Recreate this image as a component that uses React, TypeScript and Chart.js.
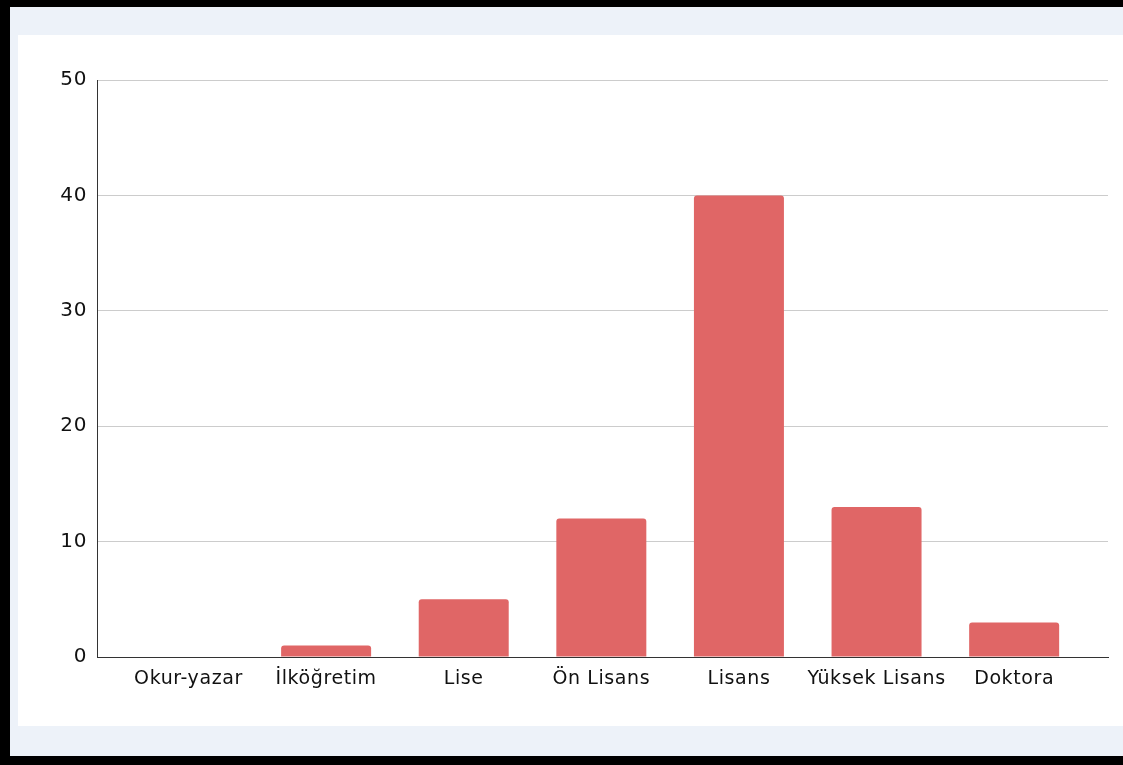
import React, { useEffect, useRef } from "react";
import { Chart, registerables } from "chart.js";

Chart.register(...registerables);

const categories = ["Okur-yazar", "İlköğretim", "Lise", "Ön Lisans", "Lisans", "Yüksek Lisans", "Doktora"];
const counts = [0, 1, 5, 12, 40, 13, 3];
const yTicks = [0, 10, 20, 30, 40, 50];

const FONT = "'DejaVu Sans', sans-serif";

export default function App() {
  const ref = useRef<HTMLCanvasElement | null>(null);

  useEffect(() => {
    if (!ref.current) return;
    const spacing = {
      id: "spacing",
      beforeLayout(chart: any) {
        chart.ctx.letterSpacing = "0.6px";
      },
      beforeDraw(chart: any) {
        chart.ctx.letterSpacing = "0.6px";
      },
    };
    const chart = new Chart(ref.current, {
      type: "bar",
      data: {
        datasets: [
          {
            data: counts.map((v, i) => ({ x: i, y: v })),
            backgroundColor: "#e06666",
            borderRadius: { topLeft: 3, topRight: 3, bottomLeft: 0, bottomRight: 0 },
            borderSkipped: "start",
            categoryPercentage: 1,
            barPercentage: 0.654,
          },
        ],
      },
      options: {
        animation: false,
        responsive: false,
        maintainAspectRatio: false,
        layout: { padding: { top: 45, right: 15, left: 0, bottom: 0 } },
        plugins: { legend: { display: false }, tooltip: { enabled: false } },
        scales: {
          x: {
            type: "linear",
            offset: false,
            min: -0.665,
            max: 6.682,
            grid: { display: false, drawTicks: false, offset: false },
            border: { display: true, color: "#333333", width: 1 },
            afterBuildTicks(scale: any) {
              scale.ticks = categories.map((_, i) => ({ value: i }));
            },
            afterFit(scale: any) {
              scale.height = 69;
            },
            ticks: {
              autoSkip: false,
              maxRotation: 0,
              padding: 11,
              color: "#111111",
              font: { family: FONT, size: 19 },
              callback: (v: any) => categories[Math.round(Number(v))] ?? "",
            },
          },
          y: {
            min: 0,
            max: 50,
            afterBuildTicks(scale: any) {
              scale.ticks = yTicks.map((v) => ({ value: v }));
            },
            afterFit(scale: any) {
              scale.width = 79;
            },
            grid: {
              drawTicks: false,
              color: (c: any) => (c.tick && c.tick.value === 0 ? "#333333" : "#cccccc"),
              lineWidth: 1,
            },
            border: { display: true, color: "#333333", width: 1 },
            ticks: {
              padding: 10,
              color: "#111111",
              font: { family: FONT, size: 20 },
            },
          },
        },
      },
      plugins: [spacing],
    } as any);
    return () => chart.destroy();
  }, []);

  return (
    <div style={{ position: "fixed", left: 0, top: 0, width: 1123, height: 765, background: "#000000", overflow: "hidden" }}>
      <div style={{ position: "absolute", left: 10, top: 7, width: 1113, height: 749, background: "#edf2f9" }} />
      <div style={{ position: "absolute", left: 18, top: 35, width: 1105, height: 691, background: "#ffffff" }}>
        <canvas ref={ref} width={1105} height={691} style={{ display: "block", width: 1105, height: 691 }} />
      </div>
    </div>
  );
}
